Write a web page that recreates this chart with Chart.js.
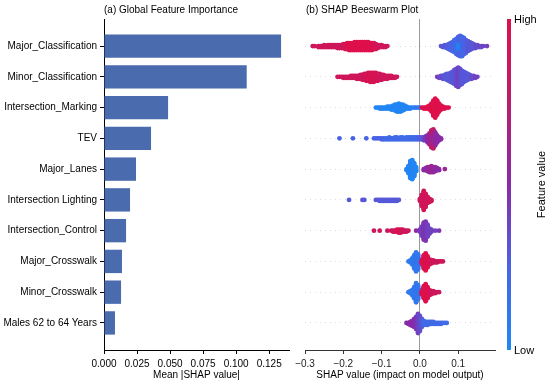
<!DOCTYPE html>
<html><head><meta charset="utf-8">
<script src="https://cdn.jsdelivr.net/npm/chart.js@4"></script>
<style>
html,body{margin:0;padding:0;background:#fff;width:550px;height:384px;overflow:hidden}
canvas{position:absolute;top:0}
#left{left:0}
#right{left:290px}
</style></head><body>
<canvas id="left" width="290" height="384"></canvas>
<canvas id="right" width="260" height="384"></canvas>
<script>
// ---------- data ----------
const features = ["Major_Classification","Minor_Classification","Intersection_Marking","TEV","Major_Lanes",
  "Intersection Lighting","Intersection_Control","Major_Crosswalk","Minor_Crosswalk","Males 62 to 64 Years"];
const meanAbsShap = [0.134, 0.108, 0.0485, 0.0356, 0.0242, 0.0197, 0.0167, 0.0136, 0.0129, 0.0083];
const importanceTicks = [0, 0.025, 0.05, 0.075, 0.1, 0.125];
const shapTicks = [-0.3, -0.2, -0.1, 0, 0.1];

// beeswarm groups: [SHAP value, number of samples, feature value (0 = low, 1 = high)]
const swarm_Major_Classification = [
 [-0.28,1,0.9],[-0.275,1,0.9],[-0.265,2,0.9],[-0.26,2,0.9],[-0.255,2,0.9],[-0.25,3,0.9],[-0.245,2,0.9],[-0.24,3,0.9],
 [-0.235,3,0.9],[-0.23,3,0.9],[-0.225,3,0.9],[-0.22,3,0.9],[-0.215,4,0.9],[-0.21,4,0.9],[-0.205,4,0.9],[-0.2,5,0.9],
 [-0.195,6,0.95],[-0.19,7,0.95],[-0.185,8,1],[-0.18,8,1],[-0.175,8,1],[-0.17,9,1],[-0.165,9,1],[-0.16,9,1],[-0.155,9,1],
 [-0.15,9,1],[-0.145,9,1],[-0.14,9,1],[-0.135,9,1],[-0.13,8,1],[-0.125,8,1],[-0.12,7,0.95],[-0.115,6,0.95],[-0.11,4,0.9],
 [-0.105,3,0.9],[-0.1,3,0.9],[-0.095,2,0.9],[-0.09,2,0.9],[-0.085,1,0.9],
 [0.055,1,0.3],[0.06,2,0.3],[0.065,3,0.3],[0.07,4,0.3],[0.075,6,0.25],[0.08,8,0.25],[0.085,10,0.25],[0.09,13,0.2],
 [0.095,16,0.2],[0.1,10,0.02],[0.1,9,0.25],[0.105,10,0.02],[0.105,11,0.25],[0.11,20,0.2],[0.115,17,0.25],[0.12,14,0.25],
 [0.125,11,0.3],[0.13,9,0.3],[0.135,7,0.3],[0.14,5,0.3],[0.145,4,0.35],[0.15,3,0.35],[0.155,2,0.35],[0.16,2,0.35],
 [0.165,1,0.4],[0.175,1,0.4]];
const swarm_Minor_Classification = [
 [-0.215,1,0.9],[-0.21,1,0.9],[-0.205,1,0.9],[-0.2,2,0.9],[-0.195,2,0.9],[-0.19,2,0.9],[-0.185,2,0.9],[-0.18,3,0.9],
 [-0.175,3,0.9],[-0.17,3,0.9],[-0.165,4,0.9],[-0.16,4,0.9],[-0.155,5,0.9],[-0.15,6,0.9],[-0.145,7,0.92],[-0.14,8,0.92],
 [-0.135,9,0.95],[-0.13,10,0.95],[-0.125,10,0.95],[-0.12,10,0.95],[-0.115,9,0.92],[-0.11,8,0.92],[-0.105,7,0.9],
 [-0.1,6,0.9],[-0.095,5,0.9],[-0.09,4,0.9],[-0.085,4,0.9],[-0.08,3,0.9],[-0.075,3,0.9],[-0.07,2,0.9],[-0.065,2,0.9],[-0.06,1,0.9],
 [0.045,1,0.4],[0.05,2,0.4],[0.055,3,0.35],[0.06,4,0.35],[0.065,5,0.3],[0.07,7,0.3],[0.075,8,0.3],[0.08,10,0.3],
 [0.085,12,0.3],[0.09,15,0.3],[0.095,18,0.35],[0.1,20,0.4],[0.105,17,0.35],[0.11,14,0.3],[0.115,11,0.3],[0.12,9,0.3],
 [0.125,7,0.3],[0.13,5,0.3],[0.135,4,0.35],[0.14,3,0.35],[0.145,2,0.4],[0.15,1,0.4]];
const swarm_Intersection_Marking = [
 [-0.115,1,0.02],[-0.11,1,0.02],[-0.105,2,0.02],[-0.1,2,0.02],[-0.095,2,0.02],[-0.09,2,0.02],[-0.085,3,0.02],[-0.08,3,0.02],
 [-0.075,4,0.02],[-0.07,5,0.02],[-0.065,7,0.02],[-0.06,8,0.02],[-0.055,9,0.02],[-0.05,8,0.02],[-0.045,7,0.02],[-0.04,5,0.02],
 [-0.035,3,0.02],[-0.03,2,0.02],[-0.025,2,0.05],[-0.02,1,0.05],[-0.015,1,0.05],[-0.01,1,0.1],[-0.005,1,0.1],[0,1,0.1],
 [0.005,1,1],[0.01,2,1],[0.015,2,1],[0.02,3,1],[0.025,5,1],[0.03,9,1],[0.035,16,1],[0.04,20,1],[0.045,15,1],
 [0.05,9,1],[0.055,5,1],[0.06,3,1],[0.065,2,1],[0.07,1,1],[0.075,1,1]];
const swarm_TEV = [
 [-0.21,1,0.25],[-0.175,1,0.25],[-0.14,1,0.25],[-0.12,1,0.25],[-0.115,1,0.25],[-0.11,1,0.25],[-0.105,1,0.25],[-0.1,2,0.25],
 [-0.095,2,0.25],[-0.09,2,0.2],[-0.085,2,0.2],[-0.08,3,0.2],[-0.075,2,0.2],[-0.07,2,0.2],[-0.065,3,0.2],[-0.06,3,0.2],
 [-0.055,2,0.2],[-0.05,3,0.2],[-0.045,3,0.2],[-0.04,2,0.2],[-0.035,3,0.2],[-0.03,3,0.2],[-0.025,3,0.2],[-0.02,3,0.2],
 [-0.015,3,0.2],[-0.01,3,0.2],[-0.005,3,0.25],[0,3,0.25],[0.005,3,0.3],[0.01,4,0.35],
 [0.015,5,0.45],[0.02,8,0.5],[0.025,12,0.55],[0.03,10,0.6],[0.03,8,0.75],[0.035,12,0.6],[0.035,8,0.8],[0.04,14,0.55],
 [0.045,8,0.5],[0.05,4,0.5],[0.055,2,0.5]];
const swarm_Major_Lanes = [
 [-0.035,2,0.02],[-0.03,8,0.02],[-0.025,18,0.02],[-0.02,20,0.02],[-0.015,14,0.02],[-0.01,5,0.02],
 [0.01,2,0.5],[0.015,3,0.5],[0.02,5,0.55],[0.025,6,0.55],[0.03,7,0.6],[0.035,6,0.55],[0.04,5,0.55],[0.045,3,0.5],
 [0.05,2,0.5],[0.065,1,0.6]];
const swarm_Intersection_Lighting = [
 [-0.185,1,0.3],[-0.15,1,0.3],[-0.145,1,0.3],[-0.115,1,0.3],[-0.11,1,0.3],[-0.105,2,0.3],[-0.1,2,0.3],[-0.095,2,0.3],
 [-0.09,2,0.3],[-0.085,2,0.3],[-0.08,2,0.3],[-0.075,2,0.3],[-0.07,2,0.3],[-0.065,2,0.3],[-0.06,2,0.3],[-0.055,1,0.3],
 [0,3,0.9],[0.005,12,0.9],[0.01,20,0.92],[0.015,14,0.9],[0.02,7,0.9],[0.025,4,0.9],[0.03,2,0.9]];
const swarm_Intersection_Control = [
 [-0.12,1,0.88],[-0.105,1,0.88],[-0.085,1,0.88],[-0.075,1,0.88],[-0.07,2,0.88],[-0.065,2,0.9],[-0.06,3,0.95],
 [-0.055,4,0.95],[-0.05,4,0.95],[-0.045,3,0.9],[-0.04,2,0.9],[-0.035,2,0.88],[-0.03,1,0.88],
 [-0.01,1,0.5],[0,3,0.45],[0.005,10,0.4],[0.01,18,0.45],[0.015,20,0.45],[0.02,13,0.4],[0.025,6,0.4],[0.03,3,0.4],
 [0.04,1,0.4],[0.05,1,0.45]];
const swarm_Major_Crosswalk = [
 [-0.03,1,0.1],[-0.025,3,0.1],[-0.02,7,0.1],[-0.015,14,0.1],[-0.01,20,0.12],[-0.005,16,0.12],[0,6,0.15],
 [0.005,4,0.95],[0.01,14,1],[0.015,18,1],[0.02,12,1],[0.025,6,0.95],[0.03,4,0.9],[0.035,3,0.9],[0.04,2,0.88],
 [0.045,2,0.88],[0.05,1,0.88],[0.055,1,0.88],[0.06,1,0.88]];
const swarm_Minor_Crosswalk = [
 [-0.03,1,0.1],[-0.025,3,0.1],[-0.02,6,0.1],[-0.015,12,0.1],[-0.01,20,0.12],[-0.005,15,0.12],[0,5,0.15],
 [0.005,4,0.95],[0.01,13,1],[0.015,18,1],[0.02,12,1],[0.025,6,0.95],[0.03,4,0.9],[0.035,3,0.9],[0.04,2,0.88],
 [0.045,1,0.88],[0.05,1,0.88]];
const swarm_Males_62_to_64 = [
 [-0.035,1,0.5],[-0.03,2,0.5],[-0.025,4,0.5],[-0.02,6,0.5],[-0.015,9,0.5],[-0.01,13,0.45],[-0.005,20,0.4],[0,16,0.35],
 [0.005,9,0.3],[0.01,5,0.2],[0.015,4,0.2],[0.02,4,0.2],[0.025,3,0.2],[0.03,3,0.2],[0.035,3,0.2],[0.04,2,0.2],
 [0.045,2,0.2],[0.05,2,0.2],[0.055,2,0.2],[0.06,1,0.2],[0.065,1,0.2],[0.07,1,0.2]];
const swarmRows = [swarm_Major_Classification, swarm_Minor_Classification, swarm_Intersection_Marking, swarm_TEV,
  swarm_Major_Lanes, swarm_Intersection_Lighting, swarm_Intersection_Control, swarm_Major_Crosswalk,
  swarm_Minor_Crosswalk, swarm_Males_62_to_64];

// ---------- styling helpers ----------
const FONT = "'Liberation Sans', Arial, Helvetica, sans-serif";
Chart.defaults.font.family = FONT;
Chart.defaults.font.size = 10;
Chart.defaults.color = '#000';
const cmapStops = [[0,[30,136,245]],[0.25,[74,99,228]],[0.5,[138,42,168]],[0.75,[185,30,110]],[1,[222,16,76]]];
function cmap(t){
  for(let i=1;i<cmapStops.length;i++){
    const [t1,c1]=cmapStops[i], [t0,c0]=cmapStops[i-1];
    if(t<=t1){ const u=(t-t0)/(t1-t0); return 'rgb('+c0.map((c,k)=>Math.round(c+(c1[k]-c)*u)).join(',')+')'; }
  }
  return 'rgb('+cmapStops[cmapStops.length-1][1].join(',')+')';
}
// beeswarm stacking (same idea as shap: stack samples sharing a value, alternating up/down, scaled per row)
function swarmLayout(groups,row){
  const sorted=groups.map((g,i)=>({g,i})).sort((a,b)=>a.g[0]-b.g[0]||a.i-b.i);
  const pts=[]; let last=null, layer=0;
  for(const {g} of sorted){
    const [x,n,f]=g;
    if(x!==last){layer=0;last=x;}
    for(let k=0;k<n;k++){ pts.push({x, off:Math.ceil(layer/2)*((layer%2)*2-1), f}); layer++; }
  }
  const m=Math.max(...pts.map(p=>p.off+1));
  const s=0.9*0.4/m;
  return pts.map(p=>({x:p.x, y:row+p.off*s, f:p.f}));
}
const Y_MIN=-0.88, Y_MAX=9.88;

const textPlugin = (title, xTitle, titleX) => ({
  id:'texts',
  afterDraw(chart){
    const c=chart.ctx, a=chart.chartArea;
    c.save(); c.fillStyle='#000'; c.font='10px '+FONT; c.textBaseline='middle';
    c.textAlign='left'; c.fillText(title, titleX, 10);
    c.textAlign='center'; c.fillText(xTitle, (a.left+a.right)/2, 375);
    c.restore();
  }
});

// ---------- left: global importance ----------
new Chart(document.getElementById('left'), {
  type:'bar',
  data:{datasets:[{data:features.map((f,i)=>({x:meanAbsShap[i], y:i})), backgroundColor:'#4a6bad',
    barPercentage:0.76, categoryPercentage:1}]},
  options:{
    indexAxis:'y', responsive:false, animation:false,
    layout:{padding:{top:19,right:1,left:0,bottom:0}},
    plugins:{legend:{display:false}, tooltip:{enabled:false}},
    scales:{
      x:{type:'linear', min:0, max:0.14,
        afterFit:s=>{s.height=34;},
        afterBuildTicks:s=>{s.ticks=importanceTicks.map(v=>({value:v}));},
        ticks:{callback:v=>Number(v).toFixed(3), padding:4, maxRotation:0, autoSkip:false, color:'#000'},
        grid:{display:true, drawOnChartArea:false, drawTicks:true, tickLength:4, tickColor:'#000', color:'#000'},
        border:{display:true, color:'#000', width:1}},
      y:{type:'linear', reverse:true, min:Y_MIN, max:Y_MAX, offset:false,
        afterFit:s=>{s.width=104;},
        afterBuildTicks:s=>{s.ticks=features.map((_,i)=>({value:i}));},
        ticks:{callback:v=>features[Math.round(v)], padding:3, autoSkip:false, color:'#000'},
        grid:{display:true, offset:false, drawOnChartArea:false, drawTicks:true, tickLength:4, tickColor:'#000', color:'#000'},
        border:{display:true, color:'#000', width:1}}
    }
  },
  plugins:[textPlugin('(a) Global Feature Importance','Mean |SHAP value|',104)]
});

// ---------- right: beeswarm ----------
const swarmPoints=[];
swarmRows.forEach((g,i)=>swarmPoints.push(...swarmLayout(g,i)));
const colorbarPlugin={
  id:'colorbar',
  afterDraw(chart){
    const c=chart.ctx, a=chart.chartArea, x=217, w=4;
    const g=c.createLinearGradient(0,a.bottom,0,a.top);
    cmapStops.forEach(([t])=>g.addColorStop(t,cmap(t)));
    c.save(); c.fillStyle=g; c.fillRect(x,a.top,w,a.bottom-a.top);
    c.fillStyle='#000'; c.font='11px '+FONT; c.textBaseline='middle'; c.textAlign='left';
    c.fillText('High', x+w+3, a.top+1); c.fillText('Low', x+w+3, a.bottom+1);
    c.translate(252,(a.top+a.bottom)/2); c.rotate(-Math.PI/2); c.textAlign='center';
    c.fillText('Feature value',0,0);
    c.restore();
  }
};
new Chart(document.getElementById('right'), {
  type:'scatter',
  data:{datasets:[{data:swarmPoints, pointRadius:2.4, pointBorderWidth:0, pointHoverRadius:2.4,
    pointBackgroundColor:swarmPoints.map(p=>cmap(p.f))}]},
  options:{
    responsive:false, animation:false,
    layout:{padding:{top:19,right:55,left:0,bottom:0}},
    plugins:{legend:{display:false}, tooltip:{enabled:false}},
    scales:{
      x:{type:'linear', min:-0.3, max:0.196,
        afterFit:s=>{s.height=34;},
        afterBuildTicks:s=>{s.ticks=shapTicks.map(v=>({value:v}));},
        ticks:{callback:v=>(v<-1e-9?'\u2212':'')+Math.abs(v).toFixed(1), padding:4, maxRotation:0, autoSkip:false, color:'#222'},
        grid:{display:true, drawOnChartArea:true, drawTicks:true, tickLength:4, tickColor:'#333',
          color:ctx=>(ctx.tick && Math.abs(ctx.tick.value)<1e-9)?'#999':'rgba(0,0,0,0)'},
        border:{display:true, color:'#333', width:1}},
      y:{type:'linear', reverse:true, min:Y_MIN, max:Y_MAX,
        afterFit:s=>{s.width=15;},
        afterBuildTicks:s=>{s.ticks=features.map((_,i)=>({value:i}));},
        ticks:{display:false},
        grid:{display:true, drawTicks:false, tickLength:0, color:'#d0d0d0', lineWidth:0.7},
        border:{display:false, dash:[1,4]}}
    }
  },
  plugins:[colorbarPlugin, textPlugin('(b) SHAP Beeswarm Plot','SHAP value (impact on model output)',16)]
});
</script>
</body></html>
